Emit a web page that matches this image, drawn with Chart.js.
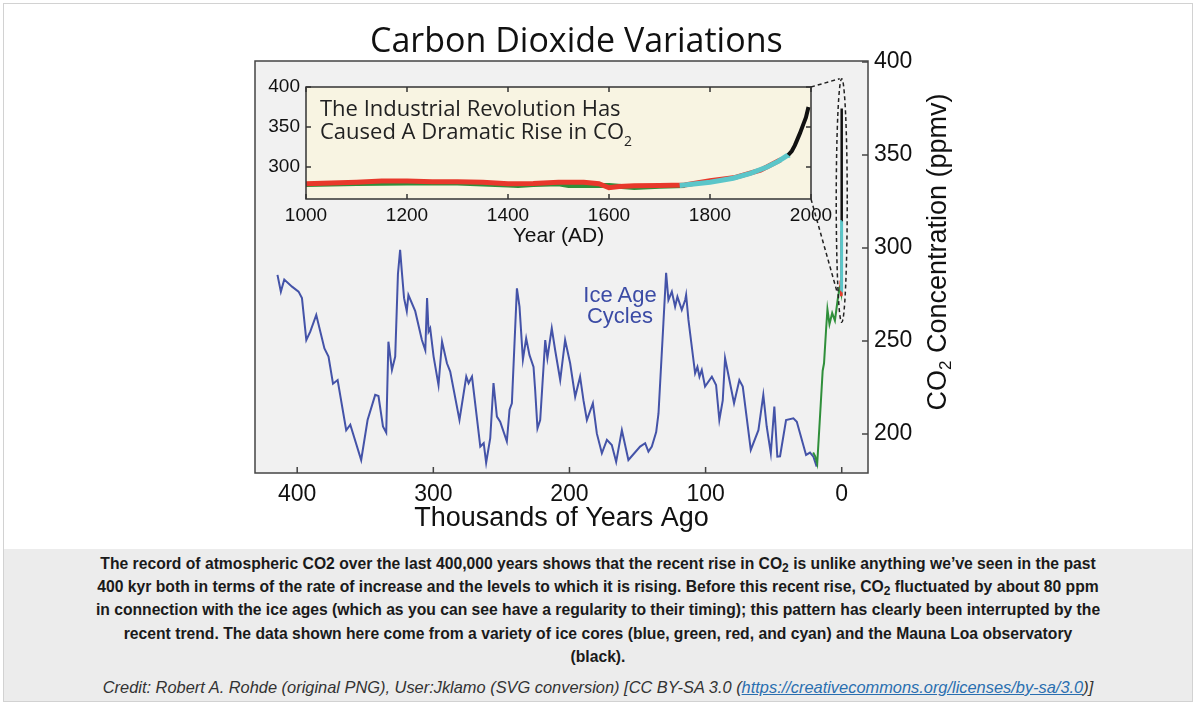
<!DOCTYPE html>
<html>
<head>
<meta charset="utf-8">
<title>Carbon Dioxide Variations</title>
<script src="https://cdn.jsdelivr.net/npm/chart.js@4.4.1/dist/chart.umd.min.js"></script>
<style>
  html, body { margin: 0; padding: 0; background: #fff; }
  #page { position: relative; width: 1196px; height: 704px; overflow: hidden; font-family: "Liberation Sans", Arial, sans-serif; }
  #border { position: absolute; left: 3px; top: 3px; width: 1190px; height: 699px; border: 1px solid #d2d2d2; box-sizing: border-box; }
  #mainWrap { position: absolute; left: 0; top: 0; width: 1196px; height: 548px; }
  #insetWrap { position: absolute; left: 262px; top: 72px; width: 580px; height: 180px; }
  #title { position: absolute; left: 370px; top: 16px; font-family: "Open Sans", sans-serif; font-size: 34px; color: #111; white-space: nowrap; }
  #yTitle { position: absolute; left: 757px; top: 236px; width: 360px; height: 32px; line-height: 32px; text-align: center;
            font-size: 27px; color: #111; transform: rotate(-90deg); white-space: nowrap; }
  #yTitle sub { font-size: 17px; vertical-align: -5px; }
  #insetNote { position: absolute; left: 320px; top: 96px; font-family: "Open Sans", sans-serif; font-size: 22px; line-height: 23.4px; color: #222; white-space: nowrap; }
  #insetNote sub { font-size: 14px; vertical-align: -7px; }
  #iceAge { position: absolute; left: 570px; top: 285px; width: 100px; text-align: center; font-size: 22px; line-height: 20.5px; color: #3b4ba5; }
  #caption { position: absolute; left: 4px; top: 549px; width: 1188px; height: 152px; background: #ececec; text-align: center; }
  #capText { padding-top: 3px; font-weight: bold; font-size: 15.7px; line-height: 23.2px; color: #1a1a1a; white-space: nowrap; }
  #capText sub { font-size: 12px; vertical-align: -3px; line-height: 0; }
  #credit { margin-top: 10px; font-style: italic; font-size: 16.4px; line-height: 18px; color: #333; white-space: nowrap; }
  #credit a { color: #2a6fb0; }
</style>
</head>
<body>
<div id="page">
  <div id="border"></div>
  <div id="mainWrap"><canvas id="mainChart" width="1196" height="548"></canvas></div>
  <div id="insetWrap"><canvas id="insetChart" width="580" height="180"></canvas></div>
  <div id="title">Carbon Dioxide Variations</div>
  <div id="yTitle">CO<sub>2</sub> Concentration (ppmv)</div>
  <div id="insetNote">The Industrial Revolution Has<br>Caused A Dramatic Rise in CO<sub>2</sub></div>
  <div id="iceAge">Ice Age<br>Cycles</div>
  <div id="caption">
    <div id="capText">
      The record of atmospheric CO2 over the last 400,000 years shows that the recent rise in CO<sub>2</sub> is unlike anything we’ve seen in the past<br>
      400 kyr both in terms of the rate of increase and the levels to which it is rising. Before this recent rise, CO<sub>2</sub> fluctuated by about 80 ppm<br>
      in connection with the ice ages (which as you can see have a regularity to their timing); this pattern has clearly been interrupted by the<br>
      recent trend. The data shown here come from a variety of ice cores (blue, green, red, and cyan) and the Mauna Loa observatory<br>
      (black).
    </div>
    <div id="credit">Credit: Robert A. Rohde (original PNG), User:Jklamo (SVG conversion) [CC BY-SA 3.0 (<a href="#">https://creativecommons.org/licenses/by-sa/3.0</a>)]</div>
  </div>
</div>

<script>
// ice core record, thousands of years ago vs ppmv
const blueAge = [414.5, 412, 409.5, 403.8, 399, 396.5, 393.3, 390.4, 386, 380, 377, 373.7, 370.3, 364, 361, 353,
  348.3, 342.7, 340.3, 337, 334.6, 333, 330.4, 328, 326, 324.4, 323.1, 321.5, 319.5, 318.3, 313.3, 308.4, 305.9,
  304.6, 303.5, 302.3, 299.8, 296.2, 293.6, 290, 287.6, 280.8, 275.8, 274.1, 271.6, 265.5, 263, 261.2, 258.2,
  255.8, 253.3, 250.9, 246, 244, 242.3, 238.6, 236.7, 234.2, 231.8, 229.4, 226.4, 225.2, 223.5, 221.5, 217.8,
  216.2, 213, 210.5, 206.8, 203.2, 199.5, 195.8, 192.2, 189.7, 187.2, 182.8, 179.9, 176.2, 172.5, 168.9, 165.7,
  161.5, 156.7, 148.1, 144.4, 142, 139.5, 136.3, 134.6, 131, 129, 127.3, 124.8, 122.4, 120.7, 117.5, 115, 114.3,
  112.6, 107.7, 106, 104.5, 102.8, 100.4, 95.4, 92.3, 89.9, 87.4, 85.7, 79.1, 75.2, 72.7, 66.8, 61.2, 57.6, 55.1,
  52.1, 49.5, 47.3, 45.3, 40.9, 35.5, 33, 26.2, 23.3, 20.8, 18.4];
const bluePpm = [285.5, 276.5, 283, 279.2, 276.5, 273, 250.5, 255, 264, 246, 241.6, 227, 229, 202, 205, 186,
  207.5, 221, 220.4, 204, 200.7, 249.6, 234.4, 241.6, 286, 299, 287, 273, 266, 274.7, 266, 250.5, 245,
  273, 255, 256.8, 241.6, 226.3, 249.6, 238, 233.5, 207.5, 230.8, 227.3, 230.8, 193.2, 195, 184.5, 197.7,
  227.3, 209.3, 206.6, 196, 213, 216.5, 278.3, 268.4, 240, 251.4, 242.5, 236, 223.6, 203, 207.5, 250.5,
  240.7, 256.8, 245, 229, 250.5, 238, 220, 230.8, 218, 207.5, 216.5, 200.3, 189.6, 196.8, 194, 185,
  202, 186, 193.2, 195, 190.5, 193.2, 201, 211, 259.5, 286.6, 272, 276.5, 268.4, 273.8, 266.7, 272, 274.7,
  261.3, 232.6, 236, 230.8, 234.4, 225.5, 230.8, 226.3, 207.5, 218, 240.7, 216.5, 229, 225.5, 191.4, 202, 221, 204,
  189.6, 214.7, 187.8, 188, 207.5, 208.4, 206.6, 188.7, 190, 187.8, 182.4];
const greenAge = [21, 19.5, 18, 15.5, 14, 13, 11.5, 10.5, 9, 7, 5, 3, 1.5, 0.3];
const greenPpm = [190, 188, 184, 215, 234, 238, 256, 267, 259, 265, 261, 272, 279, 280];

// last millennium, year AD vs ppmv
const redYear = [1000, 1050, 1100, 1150, 1200, 1250, 1300, 1350, 1400, 1450, 1500, 1550, 1580, 1600, 1620, 1650, 1700, 1750, 1800, 1850, 1900, 1940];
const redPpm = [279, 280, 281, 282.5, 282.5, 281.5, 281.5, 281, 279, 279.5, 281, 281, 279, 274, 275.5, 276.5, 277, 277.5, 283, 287, 296, 309];
const greenYear = [1000, 1100, 1200, 1300, 1400, 1420, 1450, 1500, 1520, 1580, 1600, 1650, 1700, 1750];
const greenYearPpm = [278, 279.5, 280, 280, 277.5, 277, 278, 279, 277, 277, 277, 274.5, 276, 277];
const cyanYear = [1740, 1800, 1846, 1880, 1913, 1935, 1952, 1958];
const cyanPpm = [277, 281, 286, 292, 300, 307, 314, 315];
const blackYear = [1955, 1962, 1968, 1972, 1978, 1984, 1990, 1995];
const blackPpm = [315, 320, 327, 333, 342, 352, 362, 375];

const mainXTicks = [400, 300, 200, 100, 0];
const mainYTicks = [200, 250, 300, 350, 400];
const insetXTicks = [1000, 1200, 1400, 1600, 1800, 2000];
const insetYTicks = [300, 350, 400];

Chart.defaults.font.family = '"Liberation Sans", Arial, sans-serif';
Chart.defaults.color = '#111';

const pts = (xs, ys) => xs.map((x, i) => ({ x: x, y: ys[i] }));
const toKyr = years => years.map(y => (2000 - y) / 1000);
const plain = v => String(v);

function line(data, color, width, order) {
  return { data: data, borderColor: color, borderWidth: width, pointRadius: 0, tension: 0, fill: false, order: order };
}

// inward tick marks on the sides of a chart area
function drawTicks(ctx, chart, xVals, xSides, yVals, ySides, len) {
  const a = chart.chartArea, sx = chart.scales.x, sy = chart.scales.y;
  ctx.beginPath();
  xVals.forEach(v => {
    const px = sx.getPixelForValue(v);
    if (xSides.includes('bottom')) { ctx.moveTo(px, a.bottom); ctx.lineTo(px, a.bottom - len); }
    if (xSides.includes('top')) { ctx.moveTo(px, a.top); ctx.lineTo(px, a.top + len); }
  });
  yVals.forEach(v => {
    const py = sy.getPixelForValue(v);
    if (ySides.includes('left')) { ctx.moveTo(a.left, py); ctx.lineTo(a.left + len, py); }
    if (ySides.includes('right')) { ctx.moveTo(a.right, py); ctx.lineTo(a.right - len, py); }
  });
  ctx.stroke();
}

// --- inset: last 1000 years ---
const insetDecor = {
  id: 'insetDecor',
  beforeDatasetsDraw(chart) {
    const { ctx, chartArea: a } = chart;
    ctx.save();
    ctx.fillStyle = '#f8f4e2';
    ctx.fillRect(a.left, a.top, a.right - a.left, a.bottom - a.top);
    ctx.restore();
  },
  afterDatasetsDraw(chart) {
    const { ctx, chartArea: a } = chart;
    ctx.save();
    ctx.strokeStyle = '#333';
    ctx.lineWidth = 1.5;
    ctx.strokeRect(a.left, a.top, a.right - a.left, a.bottom - a.top);
    drawTicks(ctx, chart, insetXTicks, ['bottom', 'top'], insetYTicks, ['left', 'right'], 5);
    ctx.restore();
  }
};

const insetChart = new Chart(document.getElementById('insetChart'), {
  type: 'line',
  data: {
    datasets: [
      line(pts(greenYear, greenYearPpm), '#2f8f3a', 5, 4),
      line(pts(redYear, redPpm), '#e8382b', 5, 3),
      line(pts(cyanYear, cyanPpm), '#5bc6c9', 5, 2),
      line(pts(blackYear, blackPpm), '#111', 4, 1)
    ]
  },
  options: {
    responsive: false,
    animation: false,
    devicePixelRatio: 1,
    layout: { padding: { left: 0, top: 15, right: 31, bottom: 0 } },
    plugins: { legend: { display: false }, tooltip: { enabled: false } },
    scales: {
      x: {
        type: 'linear', min: 1000, max: 2000,
        grid: { display: false, drawTicks: false }, border: { display: false },
        afterBuildTicks: s => { s.ticks = insetXTicks.map(v => ({ value: v })); },
        afterFit: s => { s.height = 53; s.paddingLeft = 0; s.paddingRight = 0; },
        ticks: { font: { size: 19 }, padding: 5, maxRotation: 0, autoSkip: false, callback: plain },
        title: { display: true, text: 'Year (AD)', font: { size: 21 }, padding: { top: 0, bottom: 3 } }
      },
      y: {
        type: 'linear', min: 260, max: 400,
        grid: { display: false, drawTicks: false }, border: { display: false },
        afterBuildTicks: s => { s.ticks = insetYTicks.map(v => ({ value: v })); },
        afterFit: s => { s.width = 44; s.paddingTop = 0; s.paddingBottom = 0; },
        ticks: { font: { size: 19 }, padding: 6, callback: plain }
      }
    }
  },
  plugins: [insetDecor]
});

// --- main plot: 400 kyr of ice cores ---
const mainDecor = {
  id: 'mainDecor',
  beforeDatasetsDraw(chart) {
    const { ctx, chartArea: a } = chart;
    ctx.save();
    ctx.fillStyle = '#f1f1f1';
    ctx.fillRect(a.left, a.top, a.right - a.left, a.bottom - a.top);
    ctx.restore();
  },
  afterDatasetsDraw(chart) {
    const { ctx, chartArea: a, scales: { x, y } } = chart;
    ctx.save();
    ctx.strokeStyle = '#444';
    ctx.lineWidth = 1.5;
    ctx.strokeRect(a.left, a.top, a.right - a.left, a.bottom - a.top);
    drawTicks(ctx, chart, mainXTicks, ['bottom'], mainYTicks, ['right'], 6);

    // zoom loop round the modern rise and the lines out to the inset
    const cx = x.getPixelForValue(0);
    const top = y.getPixelForValue(391);
    const bot = y.getPixelForValue(260);
    ctx.strokeStyle = '#222';
    ctx.lineWidth = 1.5;
    ctx.setLineDash([4, 3]);
    ctx.beginPath();
    ctx.ellipse(cx, (top + bot) / 2, 5.5, (bot - top) / 2, 0, 0, Math.PI * 2);
    ctx.stroke();

    const mr = chart.canvas.getBoundingClientRect();
    const ir = insetChart.canvas.getBoundingClientRect();
    const ox = ir.left - mr.left, oy = ir.top - mr.top;
    const ix = ox + insetChart.scales.x.getPixelForValue(2000);
    const iTop = oy + insetChart.scales.y.getPixelForValue(400);
    const iBot = oy + insetChart.scales.y.getPixelForValue(260);
    ctx.beginPath();
    ctx.moveTo(ix, iTop);
    ctx.lineTo(cx - 2, top);
    ctx.moveTo(ix, iBot);
    ctx.lineTo(cx - 5, y.getPixelForValue(277));
    ctx.stroke();
    ctx.restore();
  }
};

new Chart(document.getElementById('mainChart'), {
  type: 'line',
  data: {
    datasets: [
      line(pts(blueAge, bluePpm), '#4453a8', 2, 6),
      line(pts(greenAge, greenPpm), '#2f8f3a', 2, 5),
      line(pts(toKyr(greenYear), greenYearPpm), '#2f8f3a', 2.5, 4),
      line(pts(toKyr(redYear), redPpm), '#e8382b', 2.5, 3),
      line(pts(toKyr(cyanYear), cyanPpm), '#5bc6c9', 3, 2),
      line(pts(toKyr(blackYear), blackPpm), '#111', 2.5, 1)
    ]
  },
  options: {
    responsive: false,
    animation: false,
    devicePixelRatio: 1,
    layout: { padding: { left: 255, top: 61, right: 0, bottom: 0 } },
    plugins: { legend: { display: false }, tooltip: { enabled: false } },
    scales: {
      x: {
        type: 'linear', reverse: true, min: -19.3, max: 431,
        grid: { display: false, drawTicks: false }, border: { display: false },
        afterBuildTicks: s => { s.ticks = mainXTicks.map(v => ({ value: v })); },
        afterFit: s => { s.height = 75; s.paddingLeft = 0; s.paddingRight = 0; },
        ticks: { font: { size: 23 }, padding: 8, maxRotation: 0, autoSkip: false, callback: plain },
        title: { display: true, text: 'Thousands of Years Ago', font: { size: 27 }, padding: { top: 0, bottom: 13 } }
      },
      y: {
        type: 'linear', position: 'right', min: 179, max: 400.5,
        grid: { display: false, drawTicks: false }, border: { display: false },
        afterBuildTicks: s => { s.ticks = mainYTicks.map(v => ({ value: v })); },
        afterFit: s => { s.width = 328; s.paddingTop = 0; s.paddingBottom = 0; },
        ticks: { font: { size: 23 }, padding: 6, callback: plain }
      }
    }
  },
  plugins: [mainDecor]
});
</script>
</body>
</html>
